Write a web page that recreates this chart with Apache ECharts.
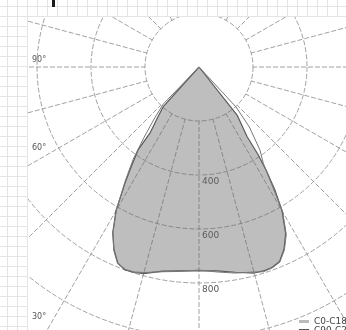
<!DOCTYPE html>
<html><head><meta charset="utf-8">
<script src="https://cdn.jsdelivr.net/npm/echarts@6/dist/echarts.min.js"></script>
<style>html,body{margin:0;padding:0;background:#fff}#c{width:346px;height:330px}</style>
</head><body><div id="c"></div>
<script>
// Photometric angles (degrees from nadir) and luminous intensity values (cd/klm)
const seriesNames = ['C0-C180', 'C90-C270'];
// C0-C180 plane: C180 half (left) then C0 half (right)
const gammaC180 = [45, 42, 39.4, 36.6, 36.3, 34.4, 32.5, 30, 27.5, 25, 22.5, 20, 17.5, 15, 10, 5, 0];
const valueC180 = [0, 199, 240, 304, 381, 440, 510, 615, 692, 745, 786, 800, 798, 792, 768, 758, 755];
const gammaC0 = [5, 10, 15, 17.5, 20, 22.5, 25, 27.5, 30, 31.7, 33, 34, 34.6, 38.4, 40];
const valueC0 = [758, 772, 790, 792, 790, 780, 745, 695, 615, 535, 460, 390, 314, 227, 0];
// C90-C270 plane: C270 half (left) then C90 half (right)
const gammaC270 = [47, 44, 41, 38, 35.5, 33, 30, 27.5, 25, 22.5, 20, 17.5, 15, 10, 5, 0];
const valueC270 = [0, 190, 250, 330, 420, 500, 612, 690, 748, 788, 798, 796, 788, 770, 760, 752];
const gammaC90 = [5, 10, 15, 17.5, 20, 22.5, 25, 27.5, 30, 33.7, 36.3, 40, 42.8, 45];
const valueC90 = [762, 775, 786, 795, 792, 782, 748, 700, 620, 430, 381, 290, 202, 0];
// axis labels
const radiusLabels = [400, 600, 800];
const angleLabels = ['90°', '60°', '30°'];

function halfPlanes(gL, vL, gR, vR) {
  const pts = [];
  for (let i = 0; i < gL.length; i++) pts.push([vL[i], gL[i] === 0 ? 0 : 360 - gL[i]]);
  for (let i = 0; i < gR.length; i++) pts.push([vR[i], gR[i]]);
  return pts;
}
const dataA = halfPlanes(gammaC180, valueC180, gammaC0, valueC0);
const dataB = halfPlanes(gammaC270, valueC270, gammaC90, valueC90);

const CX = 199, CY = 67;
const gridCol = '#8a8a8a';
const graphics = [];
// graph-paper margin (outside the diagram frame)
graphics.push({type:'rect', z:100, shape:{x:0,y:0,width:346,height:17}, style:{fill:'#fff'}});
graphics.push({type:'rect', z:100, shape:{x:0,y:0,width:27,height:330}, style:{fill:'#fff'}});
for (let x = 7; x <= 346; x += 10) {
  graphics.push({type:'line', z:101, shape:{x1:x+0.5,y1:0,x2:x+0.5,y2:x<=27?330:17}, style:{stroke:'#e4e4e4', lineWidth:1}});
}
for (let y = 6; y <= 330; y += 10) {
  graphics.push({type:'line', z:101, shape:{x1:0,y1:y+0.5,x2:y<=16?346:27,y2:y+0.5}, style:{stroke:'#e4e4e4', lineWidth:1}});
}
graphics.push({type:'rect', z:102, shape:{x:52,y:0,width:3,height:7}, style:{fill:'#1a1a1a'}});
const angleLabelY = [60, 148, 317];
angleLabels.forEach((t, i) => graphics.push({type:'text', z:103, x:32, y:angleLabelY[i],
  style:{text:t, fill:'#555', font:'8px "DejaVu Sans", sans-serif', verticalAlign:'middle'}}));

const legendBase = {orient:'horizontal', left:299, itemWidth:10, itemHeight:3, padding:0,
  textStyle:{fontSize:9, lineHeight:9, color:'#444', fontFamily:'DejaVu Sans'}};
const option = {
  backgroundColor: '#fff',
  animation: false,
  polar: [
    {center:[CX, CY], radius:[54, 324]},
    {center:[CX, CY], radius:[0, 324]}
  ],
  angleAxis: [
    {polarIndex:0, type:'value', min:0, max:360, interval:15, startAngle:-90, clockwise:false,
     axisLine:{show:false}, axisTick:{show:false}, axisLabel:{show:false},
     splitLine:{show:true, lineStyle:{color:gridCol, width:0.8, type:[5,2]}}},
    {polarIndex:1, type:'value', min:0, max:360, startAngle:-90, clockwise:false, show:false}
  ],
  radiusAxis: [
    {polarIndex:0, type:'value', min:200, max:1200, interval:200,
     axisLine:{show:false}, axisTick:{show:false}, axisLabel:{show:false},
     splitLine:{show:true, lineStyle:{color:gridCol, width:0.8, type:[5,2]}}},
    {polarIndex:1, type:'value', min:0, max:1200, interval:200,
     axisLine:{show:false}, axisTick:{show:false}, splitLine:{show:false},
     axisLabel:{show:true, color:'#555', fontSize:9, fontFamily:'DejaVu Sans', margin:3,
       lineHeight:13,
       formatter: v => radiusLabels.indexOf(v) >= 0 ? '\n' + v : ''}}
  ],
  legend: [
    Object.assign({}, legendBase, {top:317,
      data:[{name:seriesNames[0], icon:'rect', itemStyle:{color:'#bbb'}}]}),
    Object.assign({}, legendBase, {top:326,
      data:[{name:seriesNames[1], icon:'rect', itemStyle:{color:'#555'}}]})
  ],
  series: [
    {name:seriesNames[0], type:'line', coordinateSystem:'polar', polarIndex:1, data:dataA,
     symbol:'none', smooth:false, z:3,
     lineStyle:{color:'#5a5a5a', width:1.2},
     areaStyle:{color:'rgba(100,100,100,0.42)', opacity:1}},
    {name:seriesNames[1], type:'line', coordinateSystem:'polar', polarIndex:1, data:dataB,
     symbol:'none', smooth:false, z:4,
     lineStyle:{color:'#777', width:1}}
  ],
  graphic: graphics
};
const chart = echarts.init(document.getElementById('c'), null, {renderer:'canvas'});
chart.setOption(option);
</script></body></html>
